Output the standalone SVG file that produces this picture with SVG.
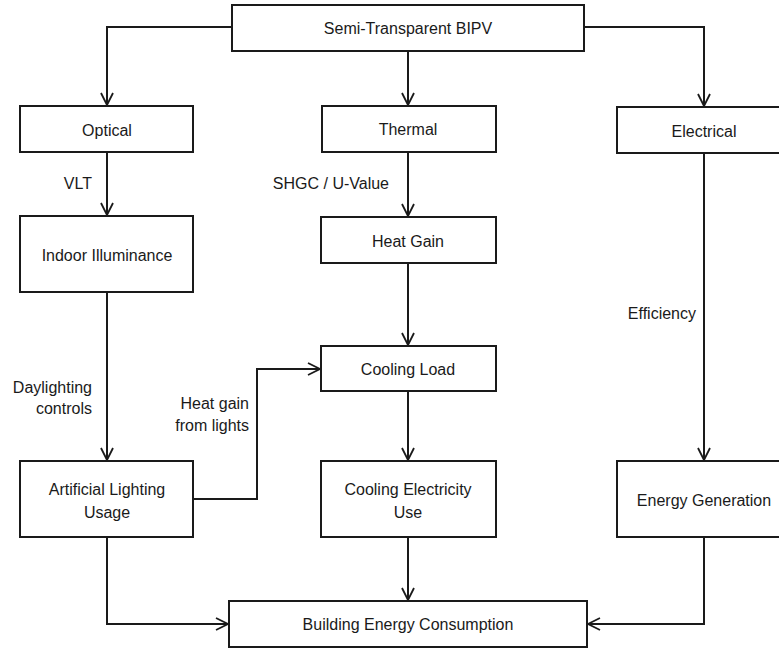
<svg xmlns="http://www.w3.org/2000/svg" width="779" height="649" viewBox="0 0 779 649">
<defs>
<marker id="arr" viewBox="0 0 14 14" refX="13" refY="7" markerWidth="14" markerHeight="14" markerUnits="userSpaceOnUse" orient="auto">
<path d="M1,1 L13,7 L1,13" fill="none" stroke="#1a1a1a" stroke-width="1.8"/>
</marker>
</defs>
<style>
.box{fill:#fff;stroke:#1a1a1a;stroke-width:2}
.t{font-family:"Liberation Sans",Arial,sans-serif;font-size:16px;fill:#1a1a1a;text-anchor:middle;dominant-baseline:central}
.l{font-family:"Liberation Sans",Arial,sans-serif;font-size:16px;fill:#1a1a1a;text-anchor:end;dominant-baseline:central}
.c{fill:none;stroke:#1a1a1a;stroke-width:2;marker-end:url(#arr)}
</style>
<rect width="779" height="649" fill="#fff"/>
<g id="connectors">
<path class="c" d="M232,27 H107 V105"/>
<path class="c" d="M408,51 V105"/>
<path class="c" d="M584,27 H704 V106"/>
<path class="c" d="M107,152 V215"/>
<path class="c" d="M408,152 V216"/>
<path class="c" d="M408,263 V345"/>
<path class="c" d="M107,292 V460"/>
<path class="c" d="M408,391 V460"/>
<path class="c" d="M704,153 V460"/>
<path class="c" d="M193,499 H257 V369 H320"/>
<path class="c" d="M107,537 V624 H228"/>
<path class="c" d="M408,537 V600"/>
<path class="c" d="M704,537 V624 H588"/>
</g>
<g id="labels">
<text class="l" x="92" y="183">VLT</text>
<text class="l" x="389" y="183">SHGC / U-Value</text>
<text class="l" x="696" y="313">Efficiency</text>
<text class="l" x="92" y="387">Daylighting</text>
<text class="l" x="92" y="408">controls</text>
<text class="l" x="249" y="403">Heat gain</text>
<text class="l" x="249" y="425">from lights</text>
</g>
<g id="bipv"><rect class="box" x="232" y="5" width="352" height="46"/><text class="t" x="408" y="28">Semi-Transparent BIPV</text></g>
<g id="optical"><rect class="box" x="20" y="106" width="173" height="46"/><text class="t" x="107" y="130">Optical</text></g>
<g id="thermal"><rect class="box" x="322" y="106" width="174" height="46"/><text class="t" x="408" y="129">Thermal</text></g>
<g id="electrical"><rect class="box" x="617" y="107" width="170" height="46"/><text class="t" x="704" y="131">Electrical</text></g>
<g id="illuminance"><rect class="box" x="20" y="216" width="173" height="76"/><text class="t" x="107" y="255">Indoor Illuminance</text></g>
<g id="heatgain"><rect class="box" x="321" y="217" width="175" height="46"/><text class="t" x="408" y="241">Heat Gain</text></g>
<g id="coolingload"><rect class="box" x="321" y="346" width="175" height="45"/><text class="t" x="408" y="369">Cooling Load</text></g>
<g id="lighting"><rect class="box" x="20" y="461" width="173" height="76"/><text class="t" x="107" y="489">Artificial Lighting</text><text class="t" x="107" y="512">Usage</text></g>
<g id="coolingelec"><rect class="box" x="321" y="461" width="175" height="76"/><text class="t" x="408" y="489">Cooling Electricity</text><text class="t" x="408" y="512">Use</text></g>
<g id="generation"><rect class="box" x="617" y="461" width="170" height="76"/><text class="t" x="704" y="500">Energy Generation</text></g>
<g id="consumption"><rect class="box" x="229" y="601" width="358" height="46"/><text class="t" x="408" y="624">Building Energy Consumption</text></g>
</svg>
